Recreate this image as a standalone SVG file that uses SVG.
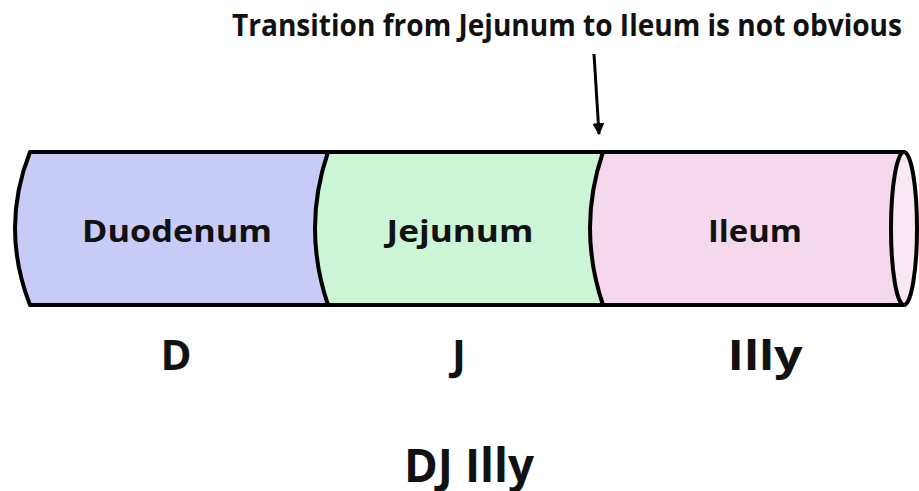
<svg xmlns="http://www.w3.org/2000/svg" width="919" height="491" viewBox="0 0 919 491">
  <defs>
    <style>
      .lbl { font-family: "Open Sans", "Liberation Sans", sans-serif; font-weight: 700; fill: #111; text-anchor: middle; }
      .edge { fill: none; stroke: #000; stroke-width: 4; stroke-linejoin: round; stroke-linecap: round; }
    </style>
    <marker id="arrowhead" viewBox="0 0 10 10" refX="9" refY="5" markerWidth="4" markerHeight="4" orient="auto" markerUnits="strokeWidth">
      <path d="M0,0 L10,5 L0,10 Z" fill="#000"/>
    </marker>
  </defs>
  <rect width="919" height="491" fill="#fff"/>

  <text class="lbl" x="567" y="36" font-size="31" textLength="670" lengthAdjust="spacingAndGlyphs">Transition from Jejunum to Ileum is not obvious</text>

  <g id="duodenum">
    <path d="M30,152 L328,152 Q302,228 328,305 L30,305 Q0,228 30,152 Z" fill="#c8cbf6"/>
    <text class="lbl" x="177" y="242" font-size="31" textLength="190" lengthAdjust="spacingAndGlyphs">Duodenum</text>
  </g>

  <g id="jejunum">
    <path d="M328,152 L603,152 Q577,228 603,305 L328,305 Q302,228 328,152 Z" fill="#ccf5d6"/>
    <text class="lbl" x="460" y="242" font-size="31" textLength="147" lengthAdjust="spacingAndGlyphs">Jejunum</text>
  </g>

  <g id="ileum">
    <path d="M603,152 L904,152 L904,305 L603,305 Q577,228 603,152 Z" fill="#f6d8ec"/>
    <ellipse cx="904" cy="228.5" rx="13" ry="76.5" fill="#f8e8f3"/>
    <text class="lbl" x="755" y="242" font-size="31" textLength="94" lengthAdjust="spacingAndGlyphs">Ileum</text>
  </g>

  <g id="outline">
    <path class="edge" d="M904,152 L30,152 Q0,228 30,305 L904,305"/>
    <path class="edge" d="M328,152 Q302,228 328,305"/>
    <path class="edge" d="M603,152 Q577,228 603,305"/>
    <ellipse class="edge" cx="904" cy="228.5" rx="13" ry="76.5"/>
  </g>

  <g id="connectors">
    <line x1="594" y1="54" x2="599" y2="134" stroke="#000" stroke-width="3" marker-end="url(#arrowhead)"/>
  </g>

  <g id="abbreviations">
    <text class="lbl" x="176" y="370" font-size="42">D</text>
    <text class="lbl" x="459" y="370" font-size="42">J</text>
    <text class="lbl" x="765" y="370" font-size="42" textLength="75" lengthAdjust="spacingAndGlyphs">Illy</text>
    <text class="lbl" x="469" y="482" font-size="46" textLength="130" lengthAdjust="spacingAndGlyphs">DJ Illy</text>
  </g>
</svg>
